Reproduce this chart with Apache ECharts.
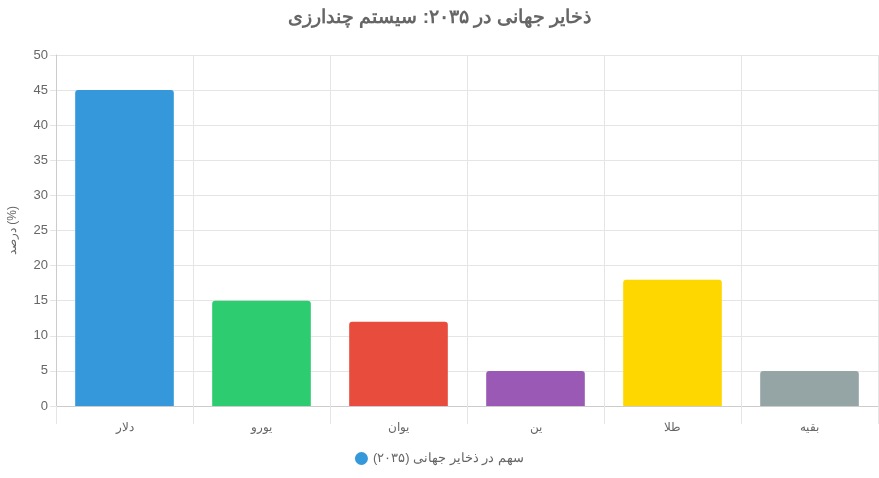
<!DOCTYPE html>
<html><head><meta charset="utf-8">
<script src="https://cdn.jsdelivr.net/npm/echarts@6/dist/echarts.min.js"></script>
<style>html,body{margin:0;padding:0;background:#fff}#c{width:879px;height:478px}</style>
</head><body><div id="c"></div>
<script>
const categories = ['دلار', 'یورو', 'یوان', 'ین', 'طلا', 'بقیه'];
const values = [45, 15, 12, 5, 18, 5];
const barColors = ['#3498db', '#2ecc71', '#e74c3c', '#9b59b6', '#ffd700', '#95a5a6'];
const seriesName = 'سهم در ذخایر جهانی (۲۰۳۵)';
const titleText = 'ذخایر جهانی در ۲۰۳۵: سیستم چندارزی';
const yAxisName = 'درصد (%)';

const chart = echarts.init(document.getElementById('c'));
chart.setOption({
  animation: false,
  textStyle: { fontFamily: 'Liberation Sans, Arial, sans-serif' },
  title: { text: titleText, left: 'center', top: 3,
    textStyle: { fontSize: 19, fontWeight: 'bold', color: '#666' } },
  legend: { bottom: 8, left: 'center', icon: 'circle', itemWidth: 13, itemHeight: 13, itemGap: 10,
    textStyle: { color: '#666', fontSize: 13 } },
  grid: { left: 56, right: 1, top: 55, bottom: 72, containLabel: false, outerBoundsMode: 'none' },
  xAxis: { type: 'category', data: categories,
    axisLine: { lineStyle: { color: '#ccc' } },
    axisTick: { show: true, length: 18, lineStyle: { color: '#e5e5e5' } },
    splitLine: { show: true, lineStyle: { color: '#e5e5e5' } },
    axisLabel: { color: '#666', fontSize: 12, margin: 16 } },
  yAxis: { type: 'value', min: 0, max: 50, interval: 5,
    name: yAxisName, nameLocation: 'middle', nameGap: 37, nameRotate: 90,
    nameTextStyle: { color: '#666', fontSize: 12 },
    axisLine: { show: true, lineStyle: { color: '#ccc' } },
    axisTick: { show: true, length: 6, lineStyle: { color: '#e5e5e5' } },
    splitLine: { lineStyle: { color: '#e5e5e5' } },
    axisLabel: { color: '#666', fontSize: 13 } },
  series: [{ name: seriesName, type: 'bar', barWidth: '72%',
    itemStyle: { color: barColors[0], borderRadius: [3, 3, 0, 0] },
    data: values.map((v, i) => ({ value: v, itemStyle: { color: barColors[i] } })) }]
});
</script></body></html>
